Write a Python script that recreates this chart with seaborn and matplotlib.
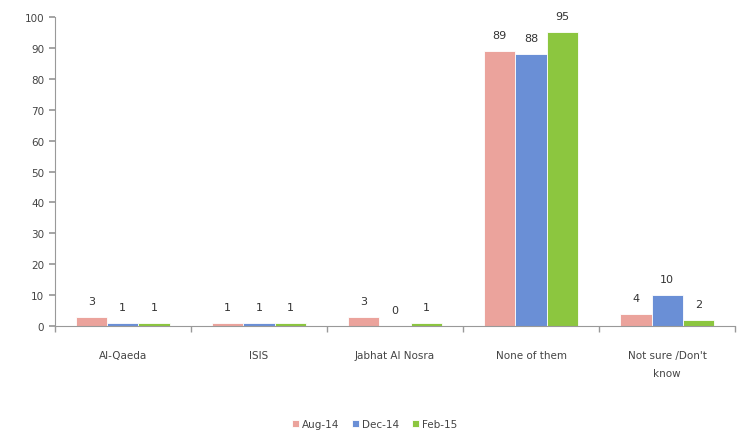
import matplotlib
matplotlib.use("Agg")
import matplotlib.pyplot as plt
import seaborn as sns
import pandas as pd
import numpy as np

# Data
categories = ["Al-Qaeda", "ISIS", "Jabhat Al Nosra", "None of them", "Not sure /Don't\nknow"]
aug_14 = [3, 1, 3, 89, 4]
dec_14 = [1, 1, 0, 88, 10]
feb_15 = [1, 1, 1, 95, 2]
series_names = ["Aug-14", "Dec-14", "Feb-15"]
colors = ["#EBA39C", "#6A8FD6", "#8CC63F"]

df = pd.DataFrame({
    "Category": categories * 3,
    "Value": aug_14 + dec_14 + feb_15,
    "Period": [s for s in series_names for _ in categories],
})

sns.set_theme(style="white")
plt.rcParams["font.family"] = ["DejaVu Sans"]

fig = plt.figure(figsize=(7.39, 4.39), dpi=100)
ax = fig.add_axes([0.074, 0.255, 0.921, 0.704])

sns.barplot(data=df, x="Category", y="Value", hue="Period", palette=colors,
            saturation=1, width=0.69, edgecolor="white", linewidth=0.6, ax=ax, legend=True)

# value labels above bars
for cont in ax.containers:
    ax.bar_label(cont, fmt="%d", padding=8, fontsize=8, color="#333333")

ax.set_ylim(0, 100)
ax.set_yticks(np.arange(0, 101, 10))
ax.set_xlim(-0.5, len(categories) - 0.5)
ax.set_xlabel("")
ax.set_ylabel("")

# tick marks between categories like Excel
ax.set_xticks(np.arange(-0.5, len(categories), 1), minor=True)
ax.tick_params(axis="x", which="major", length=0, labelsize=7.5, colors="#444444", pad=17)
ax.tick_params(axis="x", which="minor", length=4, color="#999999", bottom=True)
ax.tick_params(axis="y", length=4, color="#999999", labelsize=7.5, colors="#444444", left=True)
for lbl in ax.get_xticklabels():
    lbl.set_linespacing(2.0)

for side in ["top", "right"]:
    ax.spines[side].set_visible(False)
for side in ["left", "bottom"]:
    ax.spines[side].set_color("#999999")
    ax.spines[side].set_linewidth(0.8)

leg = ax.legend(loc="upper center", bbox_to_anchor=(0.47, -0.27), ncol=3, frameon=False,
                fontsize=7.5, handlelength=0.7, handleheight=0.7, handletextpad=0.3,
                columnspacing=1.2)
for t in leg.get_texts():
    t.set_color("#444444")

fig.savefig("out.png", dpi=100)
